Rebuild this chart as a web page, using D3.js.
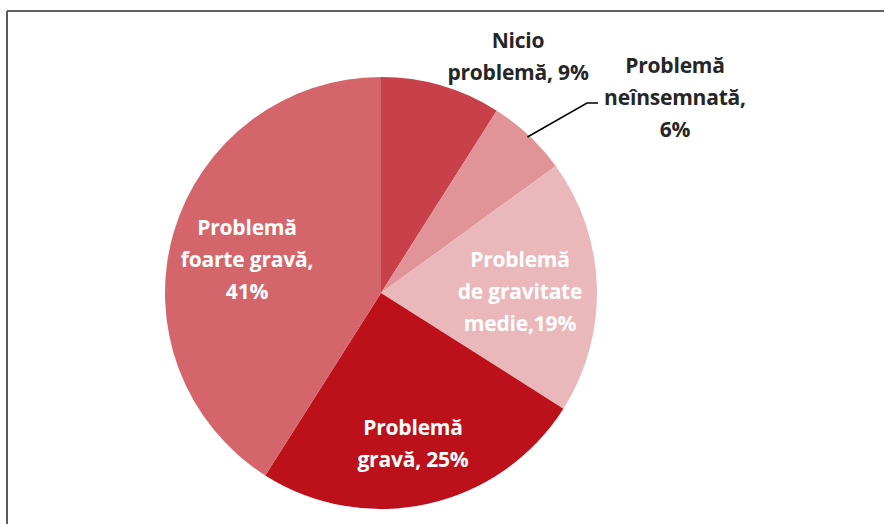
<!DOCTYPE html>
<html>
<head>
<meta charset="utf-8">
<script src="https://cdn.jsdelivr.net/npm/d3@7"></script>
<style>
  html, body { margin: 0; padding: 0; background: #fff; }
  svg { display: block; }
</style>
</head>
<body>
<svg id="chart" width="884" height="524"></svg>
<script>
const categories = ["Nicio problemă", "Problemă neînsemnată", "Problemă de gravitate medie", "Problemă gravă", "Problemă foarte gravă"];
const values = [9, 6, 19, 25, 41];
const colors = ["#c8414a", "#e09497", "#eab8bb", "#bc111b", "#d4666b"];
const labelLines = [
  ["Nicio", "problemă, 9%"],
  ["Problemă", "neînsemnată,", "6%"],
  ["Problemă", "de gravitate", "medie,19%"],
  ["Problemă", "gravă, 25%"],
  ["Problemă", "foarte gravă,", "41%"]
];

const svg = d3.select("#chart");
const W = 884, H = 524;

// frame
svg.append("line").attr("x1", 7).attr("y1", 11).attr("x2", W).attr("y2", 11)
  .attr("stroke", "#2a2a2a").attr("stroke-width", 1.5);
svg.append("line").attr("x1", 7).attr("y1", 11).attr("x2", 7).attr("y2", H)
  .attr("stroke", "#5a5a5a").attr("stroke-width", 2);

const cx = 381, cy = 293, R = 216;
const pie = d3.pie().sort(null).value(d => d)(values);
const arc = d3.arc().innerRadius(0).outerRadius(R);

const g = svg.append("g").attr("transform", `translate(${cx},${cy})`);
g.selectAll("path").data(pie).join("path")
  .attr("d", arc)
  .attr("fill", (d, i) => colors[i]);

const labelPos = [
  {x: 137, y: -245, fill: "#262626"},
  {x: 294, y: -220, fill: "#262626"},
  {x: 139, y: -26, fill: "#ffffff"},
  {x: 32, y: 142, fill: "#ffffff"},
  {x: -134, y: -58, fill: "#ffffff"}
];
const lineH = 32;

labelLines.forEach((lines, i) => {
  const p = labelPos[i];
  const t = svg.append("text")
    .attr("text-anchor", "middle")
    .attr("font-family", "'Open Sans', 'Noto Sans', sans-serif")
    .attr("font-weight", "bold")
    .attr("font-size", 21)
    .attr("letter-spacing", -0.2)
    .attr("fill", p.fill);
  lines.forEach((ln, k) => {
    t.append("tspan").attr("x", cx + p.x).attr("y", cy + p.y + k * lineH).text(ln);
  });
});

const a = pie[1];
const mid = (a.startAngle + a.endAngle) / 2;
const ex = cx + Math.sin(mid) * (R - 2), ey = cy - Math.cos(mid) * (R - 2);
svg.append("polyline")
  .attr("points", `${ex},${ey} ${587},${103} ${598},${103}`)
  .attr("fill", "none").attr("stroke", "#000").attr("stroke-width", 1.5);
</script>
</body>
</html>
